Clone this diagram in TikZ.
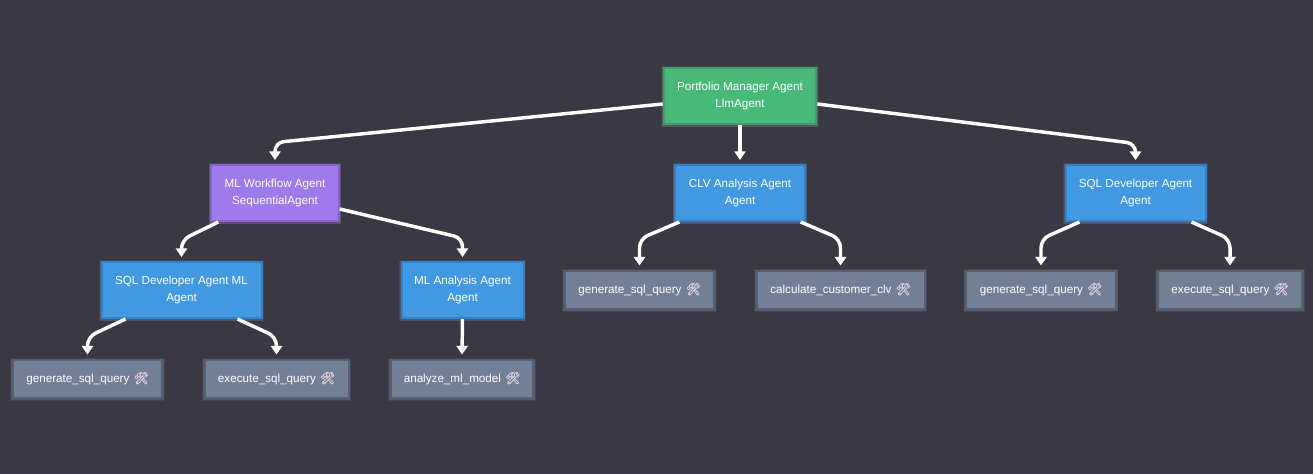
\documentclass[tikz,border=0pt]{standalone}
\usepackage{fontspec}
\setmainfont{Liberation Sans}
\newfontfamily\emojifont[FakeBold=1.6]{Noto Emoji}
\usetikzlibrary{arrows.meta,calc}
\definecolor{bgc}{HTML}{393843}
\definecolor{greenf}{HTML}{48B978}
\definecolor{greend}{HTML}{3F9E68}
\definecolor{purplef}{HTML}{9F7AEA}
\definecolor{purpled}{HTML}{8A63D2}
\definecolor{bluef}{HTML}{4299E1}
\definecolor{blued}{HTML}{3182CE}
\definecolor{toolf}{HTML}{718096}
\definecolor{toold}{HTML}{566274}
\definecolor{iconc}{HTML}{D9CBD6}
\tikzset{
  x=0.75pt,y=-0.75pt,
  base/.style={draw,line width=1.5pt,align=center,text=white,font=\fontsize{8.75pt}{12.7pt}\selectfont,inner sep=0pt,
    minimum height=42pt,
    preaction={draw=white,draw opacity=.06,line width=3.8pt,transform canvas={yshift=-0.7pt}},
    preaction={draw=white,draw opacity=.10,line width=2.8pt,transform canvas={yshift=-0.7pt}}},
  agentg/.style={base,fill=greenf,draw=greend},
  agentp/.style={base,fill=purplef,draw=purpled},
  agentb/.style={base,fill=bluef,draw=blued},
  toolbox/.style={base,fill=toolf,draw=toold,minimum height=28.5pt},
  link/.style={draw=white,line width=2.6pt,rounded corners=6.5pt},
  linktip/.style={draw=white,line width=2.6pt,-{Triangle[length=6.5pt,width=8.5pt]}},
}
\newcommand{\toolicon}{\hspace{3.2pt}{\emojifont\textcolor{iconc}{\fontsize{8.8pt}{10pt}\selectfont\char"1F6E0}}}
% start point, bend point, target node
\newcommand{\linkbent}[3]{%
  \draw[link] #1 -- #2 -- ($(#3.north)+(0,-9)$);
  \draw[linktip] ($(#3.north)+(0,-13)$) -- ($(#3.north)+(0,-4)$);}
\begin{document}
\begin{tikzpicture}
\fill[bgc] (0,0) rectangle (1313,474);
\useasboundingbox (0,0) rectangle (1313,474);
% agents
\node[agentg,minimum width=114.5pt] (pm) at (740,96) {Portfolio Manager Agent\\LlmAgent};
\node[agentp,minimum width=95.5pt] (mlw) at (275,193) {ML Workflow Agent\\SequentialAgent};
\node[agentb,minimum width=97pt] (clv) at (740,193) {CLV Analysis Agent\\Agent};
\node[agentb,minimum width=105pt] (sql) at (1135.5,193) {SQL Developer Agent\\Agent};
\node[agentb,minimum width=120pt] (sqlml) at (181.5,290) {SQL Developer Agent ML\\Agent};
\node[agentb,minimum width=91.5pt] (mla) at (462.5,290) {ML Analysis Agent\\Agent};
% tools
\node[toolbox,minimum width=112pt] (t1) at (87.5,378.5) {generate\_sql\_query\toolicon};
\node[toolbox,minimum width=108pt] (t2) at (276.5,378.5) {execute\_sql\_query\toolicon};
\node[toolbox,minimum width=107pt] (t3) at (462,378.5) {analyze\_ml\_model\toolicon};
\node[toolbox,minimum width=112pt] (t4) at (639.5,289.5) {generate\_sql\_query\toolicon};
\node[toolbox,minimum width=126pt] (t5) at (840.5,289.5) {calculate\_customer\_clv\toolicon};
\node[toolbox,minimum width=112pt] (t6) at (1041,289.5) {generate\_sql\_query\toolicon};
\node[toolbox,minimum width=108pt] (t7) at (1230,289.5) {execute\_sql\_query\toolicon};
% connectors
\linkbent{($(pm.west)+(0,8)$)}{(275,142.5)}{mlw}
\draw[linktip] (pm.south) -- ($(clv.north)+(0,-4)$);
\linkbent{($(pm.east)+(0,8)$)}{(1135.5,143.5)}{sql}
\linkbent{($(mlw.south west)+(8,0)$)}{(181.5,240)}{sqlml}
\linkbent{($(mlw.east)+(0,16)$)}{(462.5,238)}{mla}
\linkbent{($(sqlml.south west)+(25,0)$)}{(87.5,337)}{t1}
\linkbent{($(sqlml.south east)+(-25,0)$)}{(276.5,337)}{t2}
\draw[linktip] (mla.south) -- ($(t3.north)+(0,-4)$);
\linkbent{($(clv.south west)+(5,0)$)}{(639.5,239)}{t4}
\linkbent{($(clv.south east)+(-5,0)$)}{(840.5,239)}{t5}
\linkbent{($(sql.south west)+(15,0)$)}{(1041,239)}{t6}
\linkbent{($(sql.south east)+(-15,0)$)}{(1230,239)}{t7}
\end{tikzpicture}
\end{document}
